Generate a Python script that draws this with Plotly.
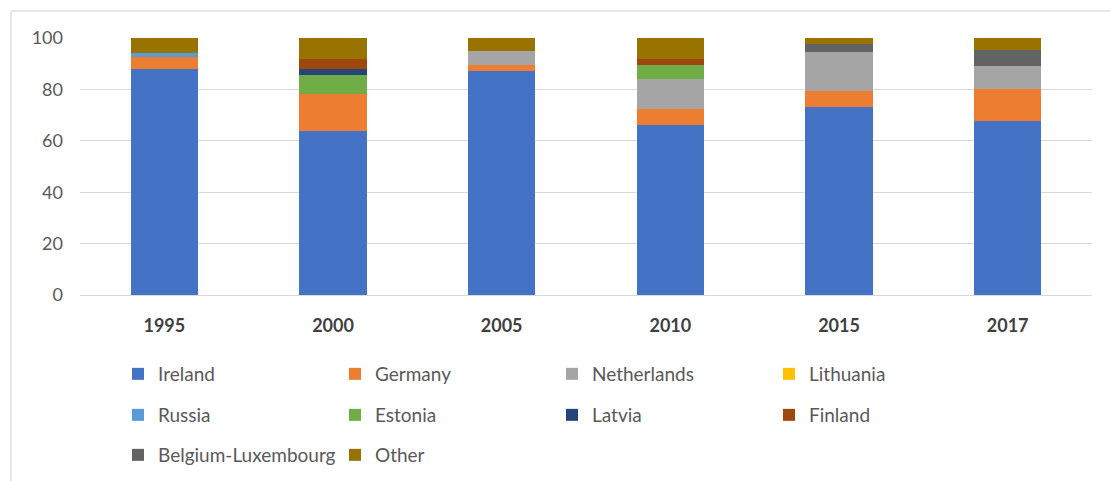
import plotly.graph_objects as go

years = ["1995", "2000", "2005", "2010", "2015", "2017"]

ireland     = [88.0, 64.0, 87.0, 66.0, 73.0, 67.7]
germany     = [4.7, 14.2, 2.6, 6.5, 6.5, 12.3]
netherlands = [0.0, 0.0, 5.2, 11.5, 15.0, 9.0]
lithuania   = [0.0, 0.0, 0.0, 0.0, 0.0, 0.0]
russia      = [1.3, 0.0, 0.0, 0.0, 0.0, 0.0]
estonia     = [0.0, 7.5, 0.0, 5.5, 0.0, 0.0]
latvia      = [0.0, 2.3, 0.0, 0.0, 0.0, 0.0]
finland     = [0.0, 3.8, 0.0, 2.5, 0.0, 0.0]
belgium_lux = [0.0, 0.0, 0.0, 0.0, 3.0, 6.5]
other       = [6.0, 8.2, 5.2, 8.0, 2.5, 4.5]

series = [
    ("Ireland", ireland, "#4472C4", "legend"),
    ("Germany", germany, "#ED7D31", "legend"),
    ("Netherlands", netherlands, "#A5A5A5", "legend"),
    ("Lithuania", lithuania, "#FFC000", "legend"),
    ("Russia", russia, "#5B9BD5", "legend2"),
    ("Estonia", estonia, "#70AD47", "legend2"),
    ("Latvia", latvia, "#264478", "legend2"),
    ("Finland", finland, "#9E480E", "legend2"),
    ("Belgium-Luxembourg", belgium_lux, "#636363", "legend3"),
    ("Other", other, "#997300", "legend3"),
]

fig = go.Figure()
for name, vals, color, lg in series:
    fig.add_trace(go.Bar(
        x=years, y=vals, name=name, marker=dict(color=color, line=dict(width=0)),
        legend=lg,
    ))

W, H = 1110, 481
font_family = "Lato, Noto Sans, sans-serif"
PLOT_L, PLOT_T, PLOT_B, PLOT_R = 80, 38, 295, 1092
PLOT_H = PLOT_B - PLOT_T
PLOT_W = PLOT_R - PLOT_L

def cy(pix):
    return 1 - pix / H

leg_common = dict(
    orientation="h", xanchor="left", yanchor="middle",
    xref="container", yref="container", x=118 / W,
    font=dict(size=19, color="#595959", family=font_family),
    entrywidth=172, entrywidthmode="pixels", bgcolor="rgba(0,0,0,0)",
    traceorder="normal", itemclick=False,
)

fig.update_layout(
    barmode="stack",
    bargap=0.6,
    width=W, height=H,
    margin=dict(l=PLOT_L, r=W - PLOT_R, t=PLOT_T, b=H - PLOT_B, autoexpand=False),
    paper_bgcolor="white", plot_bgcolor="white",
    font=dict(family=font_family, color="#595959"),
    showlegend=True,
    legend=dict(leg_common, y=cy(374)),
    legend2=dict(leg_common, y=cy(415)),
    legend3=dict(leg_common, y=cy(455)),
    xaxis=dict(
        showgrid=False, showline=True, linecolor="#D9D9D9", linewidth=1,
        tickfont=dict(size=18, color="#404040", family=font_family, weight="bold"),
        ticks="", ticklabelstandoff=14,
    ),
    yaxis=dict(
        range=[0, 100], tickvals=[0, 20, 40, 60, 80, 100],
        showgrid=True, gridcolor="#D9D9D9", gridwidth=1,
        zeroline=False, showline=False,
        tickfont=dict(size=18, color="#595959", family=font_family),
        ticks="", ticklabelstandoff=16,
    ),
)
# outer frame (top and left edges of the reference's chart border)
fx = (11 - PLOT_L) / PLOT_W
fy = (PLOT_B - 11) / PLOT_H
fig.add_shape(type="line", xref="paper", yref="paper", x0=fx, x1=1.1, y0=fy, y1=fy,
              line=dict(color="#E6E6E6", width=2))
fig.add_shape(type="line", xref="paper", yref="paper", x0=fx, x1=fx, y0=fy, y1=-1.0,
              line=dict(color="#E6E6E6", width=2))

fig.write_html("out.html")
